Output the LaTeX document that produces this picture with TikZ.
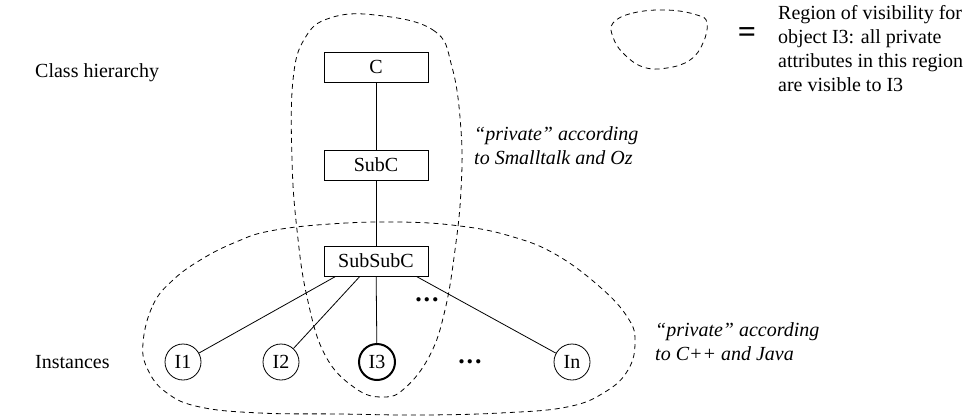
\documentclass[tikz,border=0pt]{standalone}
\usepackage{fontspec}
\setmainfont{Liberation Serif}
\usetikzlibrary{calc}
\begin{document}
\begin{tikzpicture}[x=1pt,y=-1pt,
  every node/.style={font=\fontsize{20}{24}\selectfont, inner sep=0pt},
  cls/.style={draw, line width=0.8pt, minimum width=104pt, minimum height=30pt},
  inst/.style={draw, circle, line width=0.8pt, minimum size=36pt},
  link/.style={line width=0.8pt},
  region/.style={line width=0.8pt, dash pattern=on 5pt off 4pt},
  dotsl/.style={font=\fontsize{26}{26}\selectfont\bfseries},
  note/.style={align=left, anchor=west, font=\fontsize{20}{24}\selectfont\itshape}
]
\useasboundingbox (0,0) rectangle (972,416);

% regions
\draw[region] plot[smooth cycle, tension=0.7] coordinates {
  (375,15) (433,30) (452,67) (461,130) (461,190) (455,250) (445,310)
  (430,355) (405,388) (383,397) (355,388) (325,355) (307,297) (297,230)
  (292,160) (293,80) (305,38) (330,18)};
\draw[region] plot[smooth cycle, tension=0.7] coordinates {
  (143,343) (153,305) (173,280) (202,259) (236,242) (270,231) (330,224)
  (400,222) (460,226) (510,236) (555,254) (600,287) (628,318) (635,342)
  (628,370) (605,392) (567,407) (500,413) (420,415) (340,414) (260,413)
  (200,407) (167,393) (148,370)};
\draw[region] plot[smooth cycle, tension=0.7] coordinates {
  (613,23) (633,13) (667,10) (697,15) (707,23) (703,43) (690,60)
  (667,68) (643,67) (623,53) (613,37)};

% class nodes
\node[cls] (C) at (376,67) {C};
\node[cls] (SubC) at (376,165) {SubC};
\node[cls] (SSC) at (376,261) {SubSubC};

% instances
\node[inst] (I1) at (183,362) {I1};
\node[inst] (I2) at (281,362) {I2};
\node[inst, line width=2pt] (I3) at (377,362) {I3};
\node[inst] (In) at (572,362) {In};

\coordinate (s1) at ($(SSC.south west)!0.115!(SSC.south east)$);
\coordinate (s2) at ($(SSC.south west)!0.346!(SSC.south east)$);
\coordinate (s4) at ($(SSC.south west)!0.885!(SSC.south east)$);

\draw[link] (C) -- (SubC);
\draw[link] (SubC) -- (SSC);
\draw[link] (s1) -- (I1);
\draw[link] (s2) -- (I2);
\draw[link] (SSC) -- (I3);
\draw[link] (s4) -- (In);

\node[dotsl] (d1) at (427,300) {.\hspace{2pt}.\hspace{2pt}.};
\node[dotsl] (d2) at (470,362) {.\hspace{2pt}.\hspace{2pt}.};

% labels
\node[anchor=base west] (ch) at (35,77) {Class hierarchy};
\node[anchor=base west] (in) at (35,368) {Instances};
\node[note] (p1) at (474,146) {``private'' according\\to Smalltalk and Oz};
\node[note] (p2) at (655,342) {``private'' according\\to C++ and Java};

% legend
\node[font=\fontsize{32}{32}\selectfont\bfseries] (eq) at (747,35) {=};
\node[align=left, anchor=north west] (leg) at (778,5)
  {Region of visibility for\\object I3: all private\\attributes in this region\\are visible to I3};
\end{tikzpicture}
\end{document}
